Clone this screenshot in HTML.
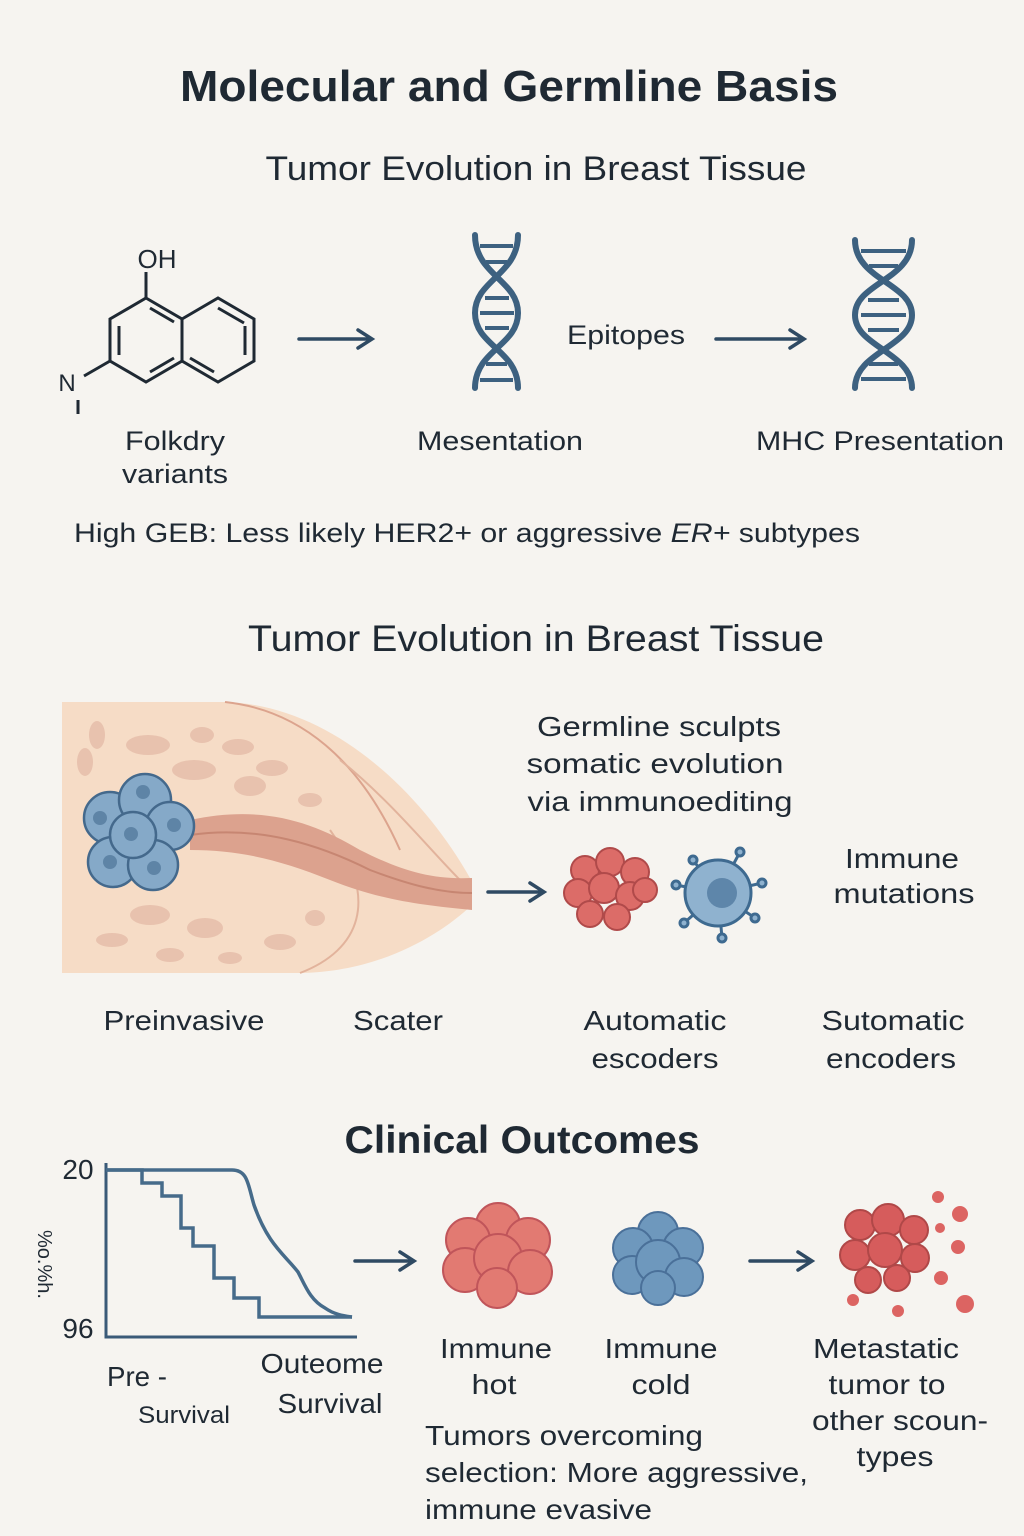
<!DOCTYPE html>
<html><head><meta charset="utf-8"><style>
html,body{margin:0;padding:0;background:#f6f4f0;}
svg{display:block;}
text{font-family:"Liberation Sans",sans-serif;fill:#1f2933;}
</style></head><body>
<svg width="1024" height="1536" viewBox="0 0 1024 1536" xmlns="http://www.w3.org/2000/svg">
<rect width="1024" height="1536" fill="#f6f4f0"/>
<text x="509" y="101" font-size="44" font-weight="bold" text-anchor="middle" textLength="658" lengthAdjust="spacingAndGlyphs">Molecular and Germline Basis</text>
<text x="536" y="180" font-size="34" text-anchor="middle" textLength="541" lengthAdjust="spacingAndGlyphs">Tumor Evolution in Breast Tissue</text>

<g stroke="#1f2933" stroke-width="3" fill="none">
<polygon points="146,298 182,319 182,361 146,382 110,361 110,319"/>
<polygon points="182,319 218,298 254,319 254,361 218,382 182,361"/>
<line x1="119" y1="326" x2="119" y2="355"/><line x1="150" y1="308" x2="174" y2="322"/><line x1="150" y1="372" x2="174" y2="358"/>
<line x1="245" y1="326" x2="245" y2="355"/><line x1="218" y1="308" x2="244" y2="323"/><line x1="190" y1="358" x2="214" y2="372"/>
<line x1="146" y1="298" x2="146" y2="272"/><line x1="110" y1="361" x2="84" y2="376"/><line x1="78" y1="400" x2="78" y2="414"/>
</g>
<text x="157" y="268" font-size="26" text-anchor="middle">OH</text>
<text x="67" y="391" font-size="24" text-anchor="middle">N</text>
<text x="175" y="450" font-size="27" text-anchor="middle" textLength="100" lengthAdjust="spacingAndGlyphs">Folkdry</text>
<text x="175" y="483" font-size="27" text-anchor="middle" textLength="106" lengthAdjust="spacingAndGlyphs">variants</text>

<g stroke="#2f4a63" stroke-width="3.5" fill="none" stroke-linecap="round">
<line x1="299" y1="339" x2="370" y2="339"/><polyline points="358,330 372,339 358,348"/>
<line x1="716" y1="339" x2="802" y2="339"/><polyline points="790,330 804,339 790,348"/>
<line x1="488" y1="892" x2="542" y2="892"/><polyline points="530,883 544,892 530,901"/>
<line x1="355" y1="1261" x2="412" y2="1261"/><polyline points="400,1252 414,1261 400,1270"/>
<line x1="750" y1="1261" x2="810" y2="1261"/><polyline points="798,1252 812,1261 798,1270"/>
</g>

<g stroke="#3d6180" stroke-width="6" fill="none" stroke-linecap="round">
<path d="M475,235 C475,275 518,280 518,313 C518,346 475,350 475,388"/>
<path d="M518,235 C518,275 475,280 475,313 C475,346 518,350 518,388"/>
<path d="M855,240 C855,280 912,283 912,315 C912,347 855,352 855,388"/>
<path d="M912,240 C912,280 855,283 855,315 C855,347 912,352 912,388"/>
</g>
<g stroke="#3d6180" stroke-width="4">
<line x1="480" y1="246" x2="513" y2="246"/><line x1="486" y1="262" x2="507" y2="262"/>
<line x1="485" y1="298" x2="509" y2="298"/><line x1="480" y1="313" x2="514" y2="313"/><line x1="485" y1="328" x2="509" y2="328"/>
<line x1="486" y1="364" x2="507" y2="364"/><line x1="480" y1="380" x2="513" y2="380"/>
<line x1="861" y1="251" x2="906" y2="251"/><line x1="869" y1="266" x2="898" y2="266"/>
<line x1="868" y1="300" x2="899" y2="300"/><line x1="861" y1="315" x2="906" y2="315"/><line x1="868" y1="330" x2="899" y2="330"/>
<line x1="869" y1="364" x2="898" y2="364"/><line x1="861" y1="379" x2="906" y2="379"/>
</g>
<text x="626" y="344" font-size="27" text-anchor="middle" textLength="118" lengthAdjust="spacingAndGlyphs">Epitopes</text>
<text x="500" y="450" font-size="27" text-anchor="middle" textLength="166" lengthAdjust="spacingAndGlyphs">Mesentation</text>
<text x="880" y="450" font-size="27" text-anchor="middle" textLength="248" lengthAdjust="spacingAndGlyphs">MHC Presentation</text>
<text x="74" y="542" font-size="27" textLength="786" lengthAdjust="spacingAndGlyphs">High GEB: Less likely HER2+ or aggressive <tspan font-style="italic">ER+</tspan> subtypes</text>

<text x="536" y="651" font-size="37" text-anchor="middle" textLength="576" lengthAdjust="spacingAndGlyphs">Tumor Evolution in Breast Tissue</text>

<path d="M62,702 L225,702 C330,705 420,790 470,878 L472,905 C440,935 380,972 300,973 L62,973 Z" fill="#f6dcc6"/>
<path d="M225,702 C300,710 360,760 400,850" stroke="#dca48e" stroke-width="2" fill="none"/>
<path d="M340,760 C390,800 430,850 460,880 M330,830 C380,900 360,950 300,973" stroke="#e2b39c" stroke-width="2" fill="none"/>
<g fill="#e8c2ae">
<ellipse cx="97" cy="735" rx="8" ry="14"/><ellipse cx="148" cy="745" rx="22" ry="10"/><ellipse cx="202" cy="735" rx="12" ry="8"/>
<ellipse cx="238" cy="747" rx="16" ry="8"/><ellipse cx="85" cy="762" rx="8" ry="14"/><ellipse cx="194" cy="770" rx="22" ry="10"/>
<ellipse cx="272" cy="768" rx="16" ry="8"/><ellipse cx="250" cy="786" rx="16" ry="10"/><ellipse cx="310" cy="800" rx="12" ry="7"/>
<ellipse cx="150" cy="915" rx="20" ry="10"/><ellipse cx="205" cy="928" rx="18" ry="10"/><ellipse cx="112" cy="940" rx="16" ry="7"/>
<ellipse cx="170" cy="955" rx="14" ry="7"/><ellipse cx="280" cy="942" rx="16" ry="8"/><ellipse cx="315" cy="918" rx="10" ry="8"/><ellipse cx="230" cy="958" rx="12" ry="6"/>
</g>
<path d="M190,820 C260,805 310,820 360,850 C400,870 430,880 472,878 L472,910 C420,905 380,900 330,880 C280,860 240,850 190,850 Z" fill="#dca28e"/>
<path d="M190,835 C260,825 320,845 370,870 C410,885 440,893 472,893" stroke="#c78672" stroke-width="2" fill="none"/>
<g stroke="#44698c" stroke-width="2.5" fill="#85a9c8">
<circle cx="110" cy="818" r="26"/><circle cx="145" cy="800" r="26"/><circle cx="170" cy="826" r="24"/>
<circle cx="113" cy="862" r="25"/><circle cx="153" cy="865" r="25"/><circle cx="133" cy="835" r="23"/>
</g>
<g fill="#5e84a6"><circle cx="100" cy="818" r="7"/><circle cx="143" cy="792" r="7"/><circle cx="174" cy="825" r="7"/><circle cx="110" cy="862" r="7"/><circle cx="154" cy="868" r="7"/><circle cx="131" cy="834" r="7"/></g>

<text x="659" y="736" font-size="28" text-anchor="middle" textLength="244" lengthAdjust="spacingAndGlyphs">Germline sculpts</text>
<text x="655" y="773" font-size="28" text-anchor="middle" textLength="257" lengthAdjust="spacingAndGlyphs">somatic evolution</text>
<text x="660" y="811" font-size="28" text-anchor="middle" textLength="265" lengthAdjust="spacingAndGlyphs">via immunoediting</text>
<text x="902" y="868" font-size="28" text-anchor="middle" textLength="114" lengthAdjust="spacingAndGlyphs">Immune</text>
<text x="904" y="903" font-size="28" text-anchor="middle" textLength="141" lengthAdjust="spacingAndGlyphs">mutations</text>

<g fill="#dc6c68" stroke="#b04a4a" stroke-width="2">
<circle cx="585" cy="870" r="14"/><circle cx="610" cy="862" r="14"/><circle cx="635" cy="872" r="14"/><circle cx="578" cy="893" r="14"/>
<circle cx="604" cy="888" r="15"/><circle cx="630" cy="896" r="14"/><circle cx="590" cy="914" r="13"/><circle cx="617" cy="917" r="13"/><circle cx="645" cy="890" r="12"/>
</g>
<g stroke="#3e6a90" stroke-width="3" fill="#8fb2cf">
<line x1="718" y1="893" x2="693" y2="860"/><line x1="718" y1="893" x2="740" y2="852"/><line x1="718" y1="893" x2="762" y2="883"/>
<line x1="718" y1="893" x2="755" y2="918"/><line x1="718" y1="893" x2="722" y2="938"/><line x1="718" y1="893" x2="684" y2="923"/><line x1="718" y1="893" x2="676" y2="885"/>
<circle cx="693" cy="860" r="4"/><circle cx="740" cy="852" r="4"/><circle cx="762" cy="883" r="4"/><circle cx="755" cy="918" r="4"/><circle cx="722" cy="938" r="4"/><circle cx="684" cy="923" r="4"/><circle cx="676" cy="885" r="4"/>
<circle cx="718" cy="893" r="33"/>
</g>
<circle cx="722" cy="893" r="15" fill="#5e86aa"/>

<text x="184" y="1030" font-size="28" text-anchor="middle" textLength="161" lengthAdjust="spacingAndGlyphs">Preinvasive</text>
<text x="398" y="1030" font-size="28" text-anchor="middle" textLength="90" lengthAdjust="spacingAndGlyphs">Scater</text>
<text x="655" y="1030" font-size="28" text-anchor="middle" textLength="143" lengthAdjust="spacingAndGlyphs">Automatic</text>
<text x="655" y="1068" font-size="28" text-anchor="middle" textLength="127" lengthAdjust="spacingAndGlyphs">escoders</text>
<text x="893" y="1030" font-size="28" text-anchor="middle" textLength="143" lengthAdjust="spacingAndGlyphs">Sutomatic</text>
<text x="891" y="1068" font-size="28" text-anchor="middle" textLength="130" lengthAdjust="spacingAndGlyphs">encoders</text>

<text x="522" y="1153" font-size="39" font-weight="bold" text-anchor="middle" textLength="355" lengthAdjust="spacingAndGlyphs">Clinical Outcomes</text>

<text x="78" y="1179" font-size="28" text-anchor="middle">20</text>
<text x="78" y="1338" font-size="28" text-anchor="middle">96</text>
<text x="0" y="0" font-size="20" transform="translate(38,1260) rotate(90) translate(-30,0)">%o.%h.</text>
<g stroke="#466b8a" stroke-width="3.5" fill="none">
<polyline points="106,1163 106,1337 357,1337" stroke="#3a5a78" stroke-width="3"/>
<path d="M106,1170 L232,1170 C248,1170 248,1185 254,1205 C268,1245 285,1255 298,1272 C305,1285 310,1300 325,1308 C335,1315 345,1316 352,1317"/>
<polyline points="106,1170 142,1170 142,1183 162,1183 162,1196 181,1196 181,1228 193,1228 193,1246 214,1246 214,1278 234,1278 234,1298 259,1298 259,1317 352,1317"/>
</g>
<text x="137" y="1386" font-size="28" text-anchor="middle" textLength="60" lengthAdjust="spacingAndGlyphs">Pre -</text>
<text x="184" y="1423" font-size="24" text-anchor="middle" textLength="92" lengthAdjust="spacingAndGlyphs">Survival</text>
<text x="322" y="1373" font-size="28" text-anchor="middle" textLength="123" lengthAdjust="spacingAndGlyphs">Outeome</text>
<text x="330" y="1413" font-size="28" text-anchor="middle" textLength="105" lengthAdjust="spacingAndGlyphs">Survival</text>

<g fill="#e27a72" stroke="#c0555a" stroke-width="2">
<circle cx="498" cy="1225" r="22"/><circle cx="468" cy="1240" r="22"/><circle cx="528" cy="1240" r="22"/>
<circle cx="465" cy="1270" r="22"/><circle cx="498" cy="1258" r="24"/><circle cx="530" cy="1272" r="22"/><circle cx="497" cy="1288" r="20"/>
</g>
<g fill="#6e98bd" stroke="#4a7099" stroke-width="2">
<circle cx="658" cy="1232" r="20"/><circle cx="633" cy="1248" r="20"/><circle cx="683" cy="1248" r="20"/>
<circle cx="632" cy="1275" r="19"/><circle cx="658" cy="1262" r="22"/><circle cx="684" cy="1277" r="19"/><circle cx="658" cy="1288" r="17"/>
</g>
<g fill="#d65c5c" stroke="#b04848" stroke-width="2">
<circle cx="860" cy="1225" r="15"/><circle cx="888" cy="1220" r="16"/><circle cx="914" cy="1230" r="14"/><circle cx="855" cy="1255" r="15"/>
<circle cx="885" cy="1250" r="17"/><circle cx="915" cy="1258" r="14"/><circle cx="868" cy="1280" r="13"/><circle cx="897" cy="1278" r="13"/>
</g>
<g fill="#dc6462">
<circle cx="938" cy="1197" r="6"/><circle cx="960" cy="1214" r="8"/><circle cx="940" cy="1228" r="5"/><circle cx="958" cy="1247" r="7"/>
<circle cx="941" cy="1278" r="7"/><circle cx="965" cy="1304" r="9"/><circle cx="853" cy="1300" r="6"/><circle cx="898" cy="1311" r="6"/>
</g>

<text x="496" y="1358" font-size="28" text-anchor="middle" textLength="112" lengthAdjust="spacingAndGlyphs">Immune</text>
<text x="494" y="1394" font-size="28" text-anchor="middle" textLength="45" lengthAdjust="spacingAndGlyphs">hot</text>
<text x="661" y="1358" font-size="28" text-anchor="middle" textLength="113" lengthAdjust="spacingAndGlyphs">Immune</text>
<text x="661" y="1394" font-size="28" text-anchor="middle" textLength="59" lengthAdjust="spacingAndGlyphs">cold</text>
<text x="886" y="1358" font-size="28" text-anchor="middle" textLength="146" lengthAdjust="spacingAndGlyphs">Metastatic</text>
<text x="887" y="1394" font-size="28" text-anchor="middle" textLength="117" lengthAdjust="spacingAndGlyphs">tumor to</text>
<text x="900" y="1430" font-size="28" text-anchor="middle" textLength="176" lengthAdjust="spacingAndGlyphs">other scoun-</text>
<text x="895" y="1466" font-size="28" text-anchor="middle" textLength="77" lengthAdjust="spacingAndGlyphs">types</text>
<text x="425" y="1445" font-size="28" textLength="278" lengthAdjust="spacingAndGlyphs">Tumors overcoming</text>
<text x="425" y="1482" font-size="28" textLength="383" lengthAdjust="spacingAndGlyphs">selection: More aggressive,</text>
<text x="425" y="1519" font-size="28" textLength="227" lengthAdjust="spacingAndGlyphs">immune evasive</text>
</svg>
</body></html>
